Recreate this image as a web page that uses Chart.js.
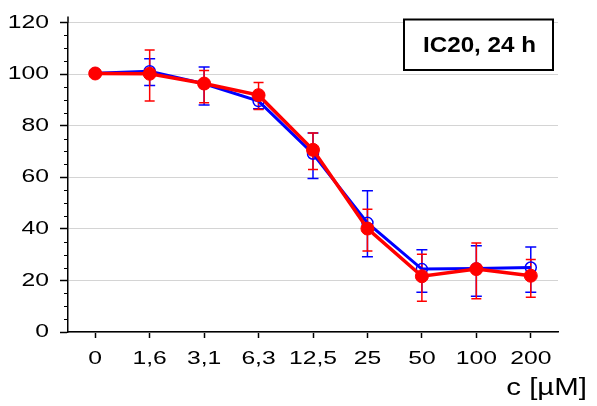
<!DOCTYPE html>
<html><head><meta charset="utf-8">
<script src="https://cdn.jsdelivr.net/npm/chart.js@4.4.1/dist/chart.umd.min.js"></script>
<style>html,body{margin:0;padding:0;background:#fff}#wrap{width:597px;height:406px;position:relative}</style>
</head><body><div id="wrap"><canvas id="c" width="597" height="406"></canvas></div>
<script>
const categories = ['0', '1,6', '3,1', '6,3', '12,5', '25', '50', '100', '200'];
const blueMean = [100.3, 101.1, 96.2, 89.5, 69.1, 42.3, 24.4, 24.6, 25.0];
const blueLow  = [100.3, 95.5, 88.0, 86.5, 59.5, 29.2, 15.4, 13.9, 15.4];
const blueHigh = [100.3, 105.9, 102.7, 92.5, 77.1, 54.7, 31.9, 33.4, 32.9];
const redMean  = [100.2, 100.1, 96.3, 91.8, 70.6, 40.1, 21.6, 24.4, 21.8];
const redLow   = [100.2, 89.5, 88.9, 86.2, 63.0, 31.4, 11.9, 12.9, 13.5];
const redHigh  = [100.2, 109.3, 101.4, 96.7, 77.1, 47.6, 30.1, 34.5, 28.1];
const yTickValues = [0, 20, 40, 60, 80, 100, 120];
const boxText = 'IC20, 24 h';
const xTitle = 'c [µM]';

const FONT = '"Liberation Sans", Arial, Helvetica, sans-serif';
let textStretch = 1;

const stretchPlugin = {
  id: 'stretch',
  beforeInit(chart) {
    const ctx = chart.ctx;
    const orig = ctx.fillText;
    ctx.fillText = function (text, x, y, maxWidth) {
      if (textStretch === 1) {
        return maxWidth === undefined ? orig.call(this, text, x, y) : orig.call(this, text, x, y, maxWidth);
      }
      this.save();
      this.translate(x, y);
      this.scale(textStretch, 1);
      if (maxWidth === undefined) orig.call(this, text, 0, 0);
      else orig.call(this, text, 0, 0, maxWidth / textStretch);
      this.restore();
    };
  },
  beforeDraw() { textStretch = 1.3; }
};

const errorBarPlugin = {
  id: 'errbars',
  beforeDatasetsDraw(chart) {
    const ys = chart.scales.y;
    const ctx = chart.ctx;
    const sets = [[0, blueLow, blueHigh, '#0000ff', 5.5], [1, redLow, redHigh, '#ff0000', 5]];
    ctx.save();
    sets.forEach(([di, lo, hi, col, cap]) => {
      const meta = chart.getDatasetMeta(di);
      ctx.strokeStyle = col;
      ctx.lineWidth = 1.5;
      meta.data.forEach((pt, i) => {
        if (hi[i] === lo[i]) return;
        const x = pt.x;
        const y1 = ys.getPixelForValue(hi[i]);
        const y2 = ys.getPixelForValue(lo[i]);
        ctx.beginPath();
        ctx.moveTo(x, y1); ctx.lineTo(x, y2);
        ctx.moveTo(x - cap, y1); ctx.lineTo(x + cap, y1);
        ctx.moveTo(x - cap, y2); ctx.lineTo(x + cap, y2);
        ctx.stroke();
      });
    });
    ctx.restore();
  }
};

const decorPlugin = {
  id: 'decor',
  afterDraw(chart) {
    const ctx = chart.ctx;
    const ys = chart.scales.y;
    const a = chart.chartArea;
    ctx.save();
    // minor ticks
    ctx.strokeStyle = '#000';
    ctx.lineWidth = 1.2;
    ctx.beginPath();
    for (let v = 5; v < 120; v += 5) {
      if (v % 20 === 0) continue;
      const py = Math.round(ys.getPixelForValue(v)) + 0.5;
      ctx.moveTo(a.left - 4, py); ctx.lineTo(a.left, py);
    }
    ctx.stroke();
    // axis extension at top
    ctx.lineWidth = 1.5;
    ctx.beginPath();
    ctx.moveTo(a.left, a.top); ctx.lineTo(a.left, a.top - 6);
    ctx.stroke();
    // label box
    ctx.fillStyle = '#fff';
    ctx.fillRect(404, 19.5, 149, 50.5);
    ctx.strokeStyle = '#000';
    ctx.lineWidth = 2;
    ctx.strokeRect(404, 19.5, 149, 50.5);
    ctx.fillStyle = '#000';
    ctx.font = 'bold 22px ' + FONT;
    ctx.textAlign = 'center';
    ctx.textBaseline = 'alphabetic';
    textStretch = 1.1;
    ctx.fillText(boxText, 479.5, 52);
    // x axis title
    ctx.font = '23px ' + FONT;
    ctx.textAlign = 'right';
    textStretch = 1.28;
    ctx.fillText(xTitle, 587, 395);
    textStretch = 1;
    ctx.restore();
  }
};

new Chart(document.getElementById('c'), {
  type: 'line',
  data: {
    labels: categories,
    datasets: [
      { label: 'A', data: blueMean, borderColor: '#0000ff', backgroundColor: '#0000ff', borderWidth: 3,
        pointRadius: 5.5, pointBorderWidth: 1.5, pointBackgroundColor: 'rgba(255,255,255,0)', pointBorderColor: '#0000ff',
        tension: 0, order: 1 },
      { label: 'B', data: redMean, borderColor: '#ff0000', backgroundColor: '#ff0000', borderWidth: 3.5,
        pointRadius: 6.5, pointBorderWidth: 1, pointBackgroundColor: '#ff0000', pointBorderColor: '#ff0000',
        tension: 0, order: 0 }
    ]
  },
  options: {
    responsive: false,
    devicePixelRatio: 1,
    animation: false,
    layout: { padding: { top: 19, right: 39, left: 0, bottom: 0 } },
    plugins: { legend: { display: false }, tooltip: { enabled: false }, title: { display: false } },
    scales: {
      x: {
        offset: true,
        ticks: { font: { family: FONT, size: 19 }, color: '#000', padding: 9, autoSkip: false, maxRotation: 0 },
        grid: { offset: false, drawOnChartArea: false, tickColor: '#000', tickLength: 6, tickWidth: 1.5 },
        border: { color: '#000', width: 1.5 },
        afterFit(s) { s.height = 74; }
      },
      y: {
        min: 0, max: 120,
        afterBuildTicks(s) { s.ticks = yTickValues.map(v => ({ value: v })); },
        ticks: { font: { family: FONT, size: 19 }, color: '#000', padding: 11 },
        grid: { color: '#d4d4d4', lineWidth: 1, tickColor: '#000', tickLength: 8, tickWidth: 1.5 },
        border: { color: '#000', width: 1.5 },
        afterFit(s) { s.width = 68; }
      }
    }
  },
  plugins: [stretchPlugin, errorBarPlugin, decorPlugin]
});
</script></body></html>
